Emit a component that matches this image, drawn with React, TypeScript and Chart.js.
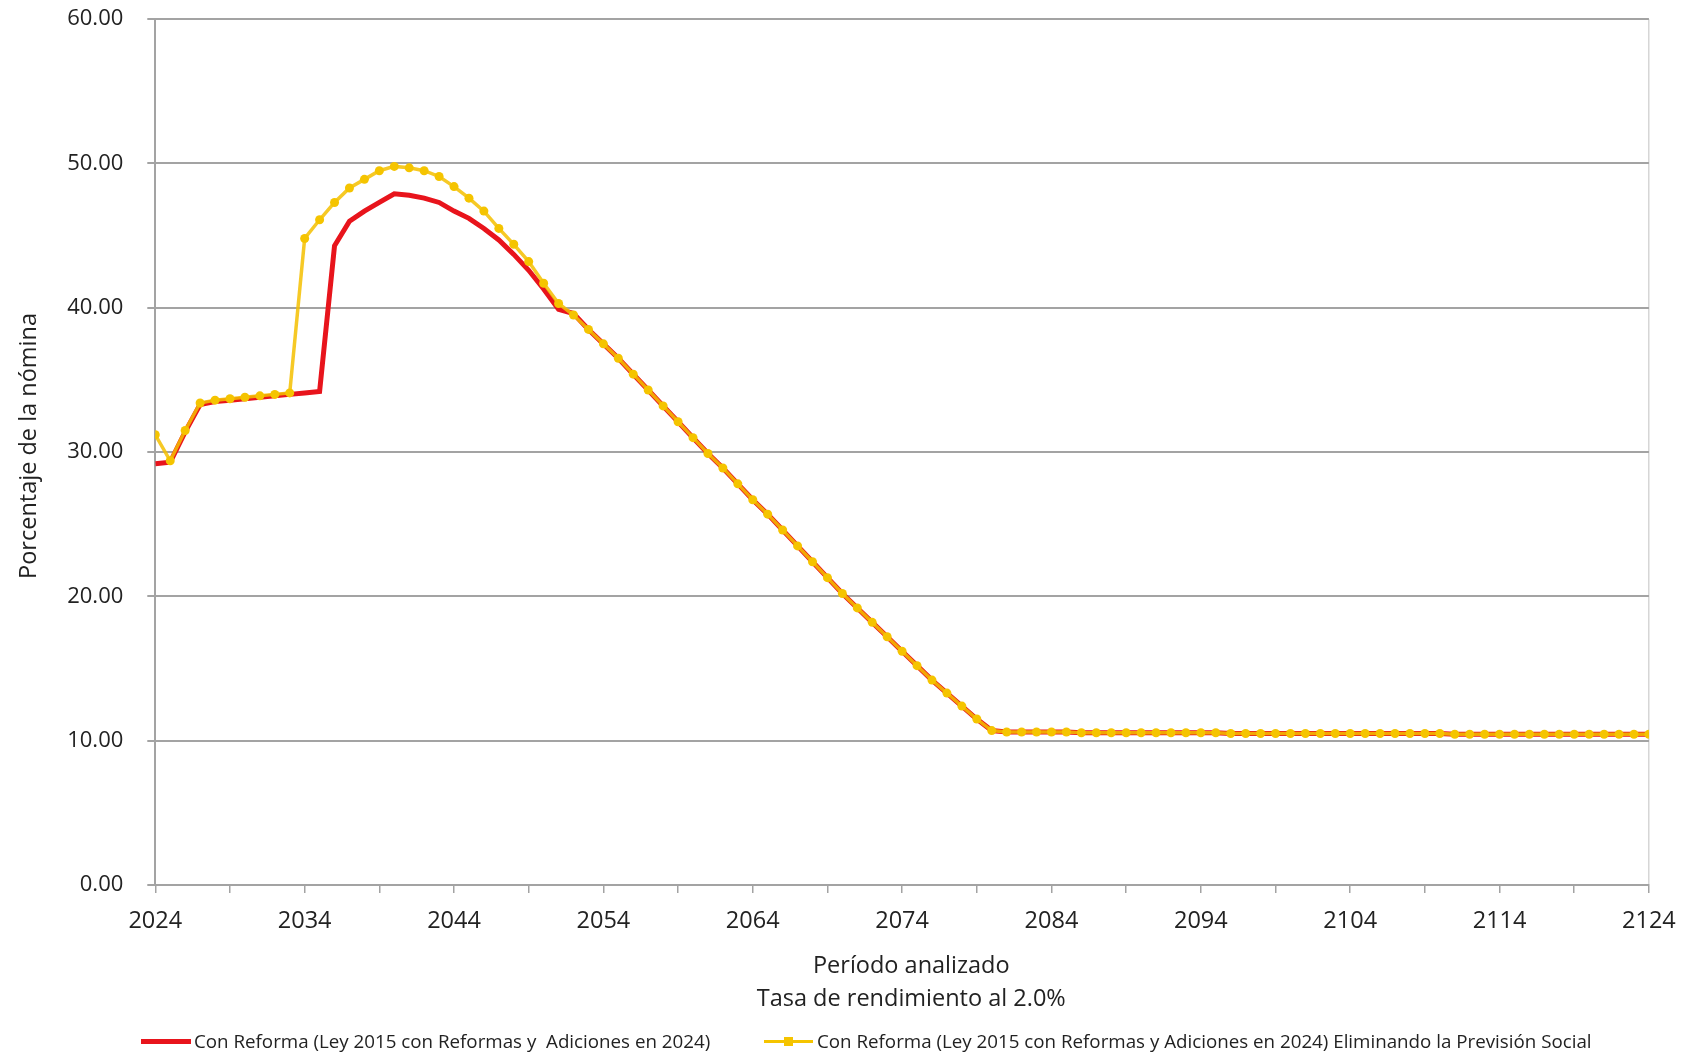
import React, { useEffect, useRef } from 'react';
import { Chart, registerables } from 'chart.js';

Chart.register(...registerables);

const FONT = "'Open Sans', 'Noto Sans', sans-serif";

// Years 2024..2124 (categories)
const years: number[] = [];
for (let y = 2024; y <= 2124; y++) years.push(y);

// tick positions on the x axis (every 5 years, labels every 10)
const xTickValues: number[] = [2024, 2029, 2034, 2039, 2044, 2049, 2054, 2059, 2064, 2069, 2074, 2079, 2084, 2089, 2094, 2099, 2104, 2109, 2114, 2119, 2124];
const yTickValues: number[] = [0, 10, 20, 30, 40, 50, 60];

const seriesLabels: string[] = [
  'Con Reforma (Ley 2015 con Reformas y  Adiciones en 2024)',
  'Con Reforma (Ley 2015 con Reformas y Adiciones en 2024) Eliminando la Previsión Social',
];

const xTitle: string[] = ['Período analizado', 'Tasa de rendimiento al 2.0%'];
const yTitle = 'Porcentaje de la nómina';

const conReforma: number[] = [
  29.2, 29.3, 31.4, 33.3, 33.5, 33.6, 33.7, 33.8, 33.9, 34.0, // 2024-2033
  34.1, 34.2, 44.3, 46.0, 46.7, 47.3, 47.9, 47.8, 47.6, 47.3, // 2034-2043
  46.7, 46.2, 45.5, 44.7, 43.7, 42.6, 41.3, 39.9, 39.6, 38.5, // 2044-2053
  37.5, 36.5, 35.4, 34.3, 33.2, 32.1, 31.0, 29.9, 28.9, 27.8, // 2054-2063
  26.7, 25.7, 24.6, 23.5, 22.4, 21.3, 20.2, 19.2, 18.2, 17.2, // 2064-2073
  16.2, 15.2, 14.2, 13.3, 12.4, 11.5, 10.7, 10.6, 10.6, 10.6, // 2074-2083
  10.6, 10.6, // 2084-2085
  10.55, 10.55, 10.55, 10.55, 10.55, 10.55, 10.55, 10.55, 10.55, 10.55, // 2086-2095
  10.5, 10.5, 10.5, 10.5, 10.5, 10.5, 10.5, 10.5, 10.5, 10.5, 10.5, 10.5, 10.5, 10.5, 10.5, // 2096-2110
  10.45, 10.45, 10.45, 10.45, 10.45, 10.45, 10.45, 10.45, 10.45, 10.45, 10.45, 10.45, 10.45, 10.45, // 2111-2124
];

const sinPrevision: number[] = [
  31.2, 29.4, 31.5, 33.4, 33.6, 33.7, 33.8, 33.9, 34.0, 34.1, // 2024-2033
  44.8, 46.1, 47.3, 48.3, 48.9, 49.5, 49.8, 49.7, 49.5, 49.1, // 2034-2043
  48.4, 47.6, 46.7, 45.5, 44.4, 43.2, 41.7, 40.3, 39.5, 38.5, // 2044-2053
  37.5, 36.5, 35.4, 34.3, 33.2, 32.1, 31.0, 29.9, 28.9, 27.8, // 2054-2063
  26.7, 25.7, 24.6, 23.5, 22.4, 21.3, 20.2, 19.2, 18.2, 17.2, // 2064-2073
  16.2, 15.2, 14.2, 13.3, 12.4, 11.5, 10.7, 10.6, 10.6, 10.6, // 2074-2083
  10.6, 10.6, // 2084-2085
  10.55, 10.55, 10.55, 10.55, 10.55, 10.55, 10.55, 10.55, 10.55, 10.55, // 2086-2095
  10.5, 10.5, 10.5, 10.5, 10.5, 10.5, 10.5, 10.5, 10.5, 10.5, 10.5, 10.5, 10.5, 10.5, 10.5, // 2096-2110
  10.45, 10.45, 10.45, 10.45, 10.45, 10.45, 10.45, 10.45, 10.45, 10.45, 10.45, 10.45, 10.45, 10.45, // 2111-2124
];

const RED = '#E8141C';
const YELLOW = '#F5C400';
const GRID = '#a3a3a3';
const TEXT = '#222222';
const NB = '\u00A0';

const CANVAS_W = 1693;
const CANVAS_H = 1074;
const CANVAS_TOP = -18;

export default function App() {
  const ref = useRef<HTMLCanvasElement | null>(null);

  useEffect(() => {
    if (!ref.current) return;
    const chart = new Chart(ref.current, {
      type: 'line',
      data: {
        datasets: [
          {
            label: seriesLabels[0],
            data: years.map((x, i) => ({ x, y: conReforma[i] })),
            borderColor: RED,
            backgroundColor: RED,
            borderWidth: 5,
            pointRadius: 0,
            tension: 0,
            order: 2,
          },
          {
            label: seriesLabels[1],
            data: years.map((x, i) => ({ x, y: sinPrevision[i] })),
            borderColor: 'rgba(245,192,0,0.85)',
            backgroundColor: YELLOW,
            borderWidth: 3.5,
            pointRadius: 4.5,
            pointBackgroundColor: YELLOW,
            pointBorderWidth: 0,
            pointHoverRadius: 4.5,
            tension: 0,
            order: 1,
          },
        ],
      },
      options: {
        responsive: false,
        maintainAspectRatio: false,
        devicePixelRatio: 1,
        animation: false,
        events: [],
        layout: { padding: { left: 11, right: 35.7, top: 6, bottom: 40.2 } },
        plugins: {
          legend: { display: false },
          tooltip: { enabled: false },
        },
        scales: {
          x: {
            type: 'linear',
            min: 2024,
            max: 2124,
            afterBuildTicks: (axis: any) => {
              axis.ticks = xTickValues.map((v) => ({ value: v }));
            },
            ticks: {
              autoSkip: false,
              maxRotation: 0,
              padding: 17.2,
              color: TEXT,
              font: { family: FONT, size: 23.5, lineHeight: 0.928 },
              callback: (v: any) => ((Number(v) - 2024) % 10 === 0 ? String(v) : ''),
            },
            grid: {
              display: true,
              drawOnChartArea: true,
              drawTicks: true,
              tickLength: 8,
              lineWidth: 1.5,
              color: (ctx: any) => (ctx.tick && ctx.tick.value === 2124 ? '#d6d6d6' : 'rgba(0,0,0,0)'),
              tickColor: GRID,
            },
            border: { display: true, color: GRID, width: 2 },
            title: {
              display: true,
              text: xTitle.map((t) => NB + NB + NB + t),
              color: TEXT,
              font: { family: FONT, size: 23.5, lineHeight: 1.417 },
              padding: { top: 0, bottom: 0 },
            },
          },
          y: {
            type: 'linear',
            min: 0,
            max: 60,
            afterBuildTicks: (axis: any) => {
              axis.ticks = yTickValues.map((v) => ({ value: v }));
            },
            ticks: {
              padding: 24,
              color: TEXT,
              font: { family: FONT, size: 22 },
              callback: (v: any) => Number(v).toFixed(2),
            },
            grid: {
              display: true,
              drawOnChartArea: true,
              drawTicks: true,
              tickLength: 8,
              lineWidth: 2,
              color: GRID,
              tickColor: GRID,
            },
            border: { display: true, color: GRID, width: 2 },
            title: {
              display: true,
              text: NB + NB + yTitle,
              color: TEXT,
              font: { family: FONT, size: 23.5 },
              padding: { top: 4, bottom: 0 },
            },
          },
        },
      },
    } as any);
    return () => chart.destroy();
  }, []);

  const legendText: React.CSSProperties = {
    position: 'absolute',
    top: 1041,
    transform: 'translateY(-50%)',
    fontFamily: FONT,
    fontSize: 18.75,
    color: TEXT,
    whiteSpace: 'pre',
    lineHeight: 1,
  };

  return (
    <div style={{ position: 'fixed', left: 0, top: 0, width: 1684, height: 1056, background: '#fff', overflow: 'hidden' }}>
      <canvas
        ref={ref}
        width={CANVAS_W}
        height={CANVAS_H}
        style={{ position: 'absolute', left: 0, top: CANVAS_TOP, width: CANVAS_W, height: CANVAS_H }}
      />
      <div style={{ position: 'absolute', left: 141, top: 1038.5, width: 50, height: 5, background: RED }} />
      <div style={{ ...legendText, left: 194 }}>{seriesLabels[0]}</div>
      <div style={{ position: 'absolute', left: 764, top: 1039.5, width: 49, height: 3, background: YELLOW }} />
      <div style={{ position: 'absolute', left: 784, top: 1036.5, width: 9, height: 9, background: YELLOW }} />
      <div style={{ ...legendText, left: 817 }}>{seriesLabels[1]}</div>
    </div>
  );
}
